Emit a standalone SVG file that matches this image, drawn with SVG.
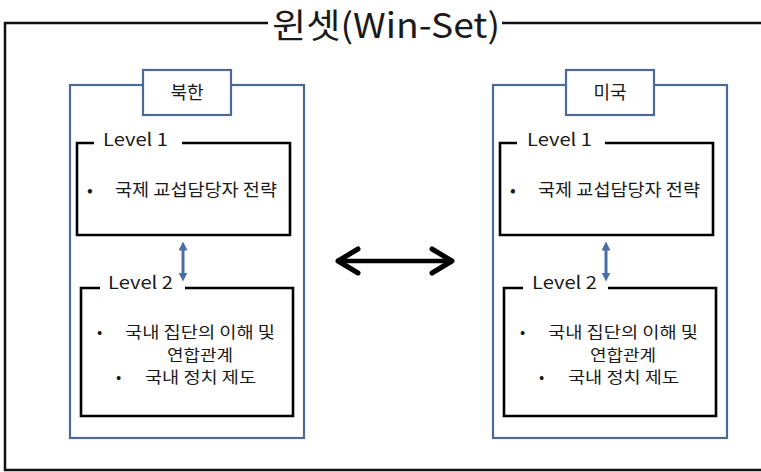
<svg xmlns="http://www.w3.org/2000/svg" width="761" height="472" viewBox="0 0 761 472">
  <style>
    .frame { fill: none; stroke: #111; stroke-width: 2.5; }
    .panel { fill: #fff; stroke: #4d6b92; stroke-width: 2.2; }
    .box { fill: none; stroke: #000; stroke-width: 2.6; }
    .t { font-family: "Noto Sans CJK KR", "Noto Sans", sans-serif; fill: #1a1a1a; }
    .lvl { font-size: 17.5px; }
    .body { font-size: 17px; }
    .body2 { font-size: 15.5px; }
    .blue { stroke: #4a6fa6; stroke-width: 3; fill: none; }
    .big { stroke: #000; stroke-width: 4.5; fill: none; }
  </style>
  <defs>
    <marker id="bh" viewBox="0 0 10 10" refX="5" refY="5" markerUnits="userSpaceOnUse" markerWidth="9" markerHeight="9" orient="auto-start-reverse">
      <path d="M0 0 L10 5 L0 10 Z" fill="#4a6fa6"/>
    </marker>
    <marker id="kh" viewBox="0 0 30 30" refX="26" refY="15" markerUnits="userSpaceOnUse" markerWidth="30" markerHeight="30" orient="auto-start-reverse">
      <polyline points="6,3 26,15 6,27" fill="none" stroke="#000" stroke-width="5" stroke-linecap="round" stroke-linejoin="round"/>
    </marker>
  </defs>

  <g id="winset-frame">
    <path class="frame" d="M268 23 H5 V470 H761 M502 23 H761"/>
    <text class="t" x="272" y="38" font-size="34" textLength="228" lengthAdjust="spacingAndGlyphs">윈셋(Win-Set)</text>
  </g>

  <g id="north-korea">
    <rect class="panel" x="70" y="85" width="234" height="353"/>
    <rect class="panel" x="143" y="70" width="88" height="45"/>
    <text class="t" x="187" y="99" font-size="18" text-anchor="middle">북한</text>
    <g id="nk-level1">
      <path class="box" d="M94 143 H77 V235 H290 V143 H182"/>
      <text class="t lvl" x="103" y="146" textLength="65" lengthAdjust="spacingAndGlyphs">Level 1</text>
      <text class="t body" x="87" y="196">•</text>
      <text class="t body" x="115" y="196" textLength="162" lengthAdjust="spacingAndGlyphs">국제 교섭담당자 전략</text>
    </g>
    <g id="nk-level2">
      <path class="box" d="M100 288 H81 V416 H293 V288 H185"/>
      <text class="t lvl" x="108" y="289" textLength="65" lengthAdjust="spacingAndGlyphs">Level 2</text>
      <text class="t body2" x="97" y="338">•</text>
      <text class="t body2" x="125" y="338" textLength="150" lengthAdjust="spacingAndGlyphs">국내 집단의 이해 및</text>
      <text class="t body2" x="200" y="360.5" text-anchor="middle" textLength="66" lengthAdjust="spacingAndGlyphs">연합관계</text>
      <text class="t body2" x="116" y="383">•</text>
      <text class="t body2" x="145" y="383" textLength="111" lengthAdjust="spacingAndGlyphs">국내 정치 제도</text>
    </g>
  </g>

  <g id="usa" transform="translate(423 0)">
    <rect class="panel" x="70" y="85" width="234" height="353"/>
    <rect class="panel" x="143" y="70" width="88" height="45"/>
    <text class="t" x="187" y="99" font-size="18" text-anchor="middle">미국</text>
    <g id="us-level1">
      <path class="box" d="M94 143 H77 V235 H290 V143 H182"/>
      <text class="t lvl" x="104" y="146" textLength="65" lengthAdjust="spacingAndGlyphs">Level 1</text>
      <text class="t body" x="87" y="196">•</text>
      <text class="t body" x="115" y="196" textLength="162" lengthAdjust="spacingAndGlyphs">국제 교섭담당자 전략</text>
    </g>
    <g id="us-level2">
      <path class="box" d="M100 288 H81 V416 H293 V288 H185"/>
      <text class="t lvl" x="109" y="289" textLength="65" lengthAdjust="spacingAndGlyphs">Level 2</text>
      <text class="t body2" x="97" y="338">•</text>
      <text class="t body2" x="125" y="338" textLength="150" lengthAdjust="spacingAndGlyphs">국내 집단의 이해 및</text>
      <text class="t body2" x="200" y="360.5" text-anchor="middle" textLength="66" lengthAdjust="spacingAndGlyphs">연합관계</text>
      <text class="t body2" x="116" y="383">•</text>
      <text class="t body2" x="145" y="383" textLength="111" lengthAdjust="spacingAndGlyphs">국내 정치 제도</text>
    </g>
  </g>

  <g id="connectors">
    <line class="blue" x1="183" y1="246" x2="183" y2="277" marker-start="url(#bh)" marker-end="url(#bh)"/>
    <line class="blue" x1="606" y1="246" x2="606" y2="277" marker-start="url(#bh)" marker-end="url(#bh)"/>
    <line class="big" x1="338" y1="261" x2="452" y2="261" marker-start="url(#kh)" marker-end="url(#kh)"/>
  </g>
</svg>
